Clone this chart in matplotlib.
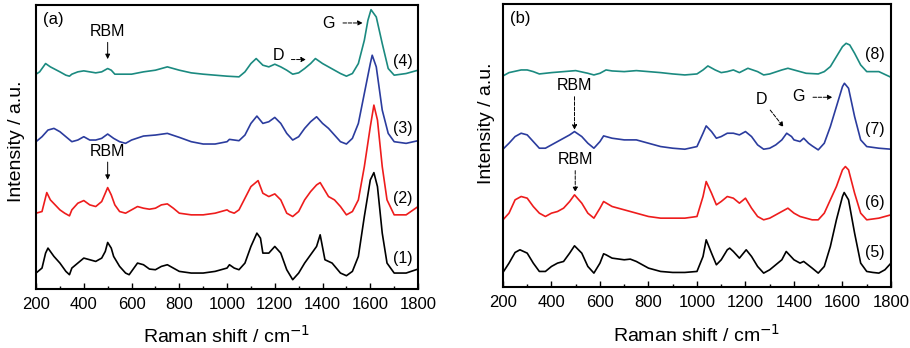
import matplotlib
matplotlib.use("Agg")
from matplotlib import pyplot as plt
from matplotlib.ticker import MultipleLocator

plt.rcParams['font.family'] = ['Liberation Sans', 'DejaVu Sans']

# panel (a): spectra (1)-(4), intensities (stacked, a.u.)
x1 = [200, 225, 240, 250, 275, 300, 325, 340, 350, 375, 400, 425, 450, 475, 490, 500, 515, 525, 550, 575,
      590, 600, 625, 650, 675, 700, 725, 750, 775, 800, 850, 900, 950, 1000, 1010, 1030, 1050, 1075, 1100,
      1125, 1140, 1150, 1175, 1200, 1225, 1250, 1275, 1300, 1325, 1350, 1375, 1390, 1410, 1440, 1475, 1500,
      1525, 1550, 1575, 1600, 1615, 1630, 1650, 1670, 1700, 1750, 1800]
y1 = [50, 65, 110, 125, 100, 80, 55, 45, 65, 80, 95, 90, 85, 95, 115, 142, 125, 100, 70, 50,
      45, 55, 80, 75, 62, 60, 70, 75, 65, 55, 50, 50, 55, 65, 75, 65, 60, 80, 130,
      170, 155, 110, 110, 130, 110, 60, 30, 50, 80, 105, 130, 165, 90, 80, 50, 42,
      55, 100, 220, 330, 352, 310, 170, 80, 50, 50, 62]

x2 = [200, 225, 245, 260, 300, 320, 340, 350, 375, 400, 425, 450, 475, 490, 500, 515, 530, 550, 575, 600,
      625, 650, 675, 700, 725, 750, 775, 800, 850, 900, 950, 1000, 1010, 1030, 1050, 1075, 1100, 1130, 1150,
      1175, 1200, 1225, 1250, 1275, 1300, 1325, 1350, 1375, 1390, 1400, 1425, 1450, 1475, 1500, 1525, 1550,
      1575, 1600, 1615, 1630, 1650, 1670, 1700, 1750, 1800]
y2 = [230, 235, 292, 270, 240, 230, 222, 240, 260, 268, 255, 250, 265, 290, 307, 285, 255, 235, 230, 240,
      250, 245, 242, 245, 255, 258, 245, 230, 225, 225, 230, 240, 235, 230, 240, 275, 310, 328, 290,
      280, 288, 270, 230, 220, 235, 270, 295, 315, 322, 310, 280, 270, 250, 225, 235, 270,
      370, 490, 555, 510, 370, 270, 225, 225, 250]

x3 = [200, 225, 250, 275, 300, 325, 350, 375, 400, 425, 450, 475, 500, 525, 550, 575, 600, 650, 700, 750,
      800, 850, 900, 950, 1000, 1010, 1030, 1050, 1075, 1100, 1125, 1150, 1175, 1200, 1225, 1250, 1275, 1300,
      1325, 1350, 1375, 1400, 1425, 1450, 1475, 1500, 1525, 1550, 1575, 1600, 1608, 1625, 1650, 1675, 1700,
      1750, 1800]
y3 = [445, 460, 480, 485, 475, 460, 445, 450, 460, 450, 450, 455, 468, 455, 445, 440, 450, 462, 465, 470,
      458, 445, 438, 438, 445, 452, 450, 448, 465, 500, 522, 500, 505, 518, 500, 470, 450, 460,
      485, 505, 520, 500, 485, 465, 445, 438, 455, 500, 590, 680, 705, 670, 540, 470, 445,
      440, 448]

x4 = [200, 215, 240, 260, 300, 325, 340, 350, 375, 400, 425, 450, 475, 500, 515, 530, 550, 600, 650, 700,
      750, 800, 850, 900, 950, 1000, 1050, 1075, 1100, 1122, 1150, 1175, 1200, 1225, 1250, 1275, 1300, 1325,
      1350, 1370, 1400, 1425, 1450, 1475, 1500, 1525, 1550, 1575, 1590, 1603, 1625, 1650, 1675, 1700, 1750,
      1800]
y4 = [648, 655, 680, 670, 655, 645, 642, 648, 655, 658, 655, 652, 655, 665, 660, 648, 648, 648, 655, 660,
      670, 660, 652, 648, 645, 642, 640, 655, 680, 695, 675, 670, 678, 670, 660, 648, 652, 665,
      680, 695, 680, 670, 660, 650, 642, 650, 680, 750, 810, 842, 820, 740, 665, 645, 650,
      660]

# panel (b): spectra (5)-(8)
x5 = [200, 225, 250, 270, 300, 325, 350, 375, 400, 425, 450, 475, 495, 525, 550, 575, 600, 615, 625, 650,
      700, 725, 750, 775, 800, 850, 900, 950, 1000, 1025, 1038, 1060, 1080, 1100, 1125, 1135, 1150, 1175,
      1203, 1225, 1250, 1275, 1300, 1325, 1350, 1368, 1400, 1425, 1440, 1475, 1500, 1525, 1550, 1575, 1600,
      1607, 1625, 1650, 1675, 1700, 1725, 1750, 1775, 1800]
y5 = [52, 80, 112, 120, 110, 80, 55, 55, 70, 80, 85, 110, 132, 110, 70, 50, 80, 108, 105, 95,
      90, 92, 85, 75, 65, 55, 52, 52, 55, 100, 150, 110, 75, 90, 120, 125, 115, 95,
      120, 100, 70, 50, 60, 75, 90, 115, 90, 80, 85, 65, 50, 70, 130, 210, 280,
      292, 270, 170, 80, 55, 52, 50, 60, 80]

x6 = [200, 225, 250, 275, 300, 325, 350, 375, 400, 425, 450, 475, 495, 525, 550, 575, 600, 615, 650, 700,
      750, 800, 850, 900, 950, 1000, 1025, 1038, 1060, 1080, 1100, 1125, 1150, 1175, 1200, 1225, 1250, 1275,
      1300, 1325, 1350, 1375, 1400, 1425, 1450, 1475, 1500, 1525, 1550, 1575, 1600, 1612, 1625, 1650, 1675,
      1700, 1750, 1800]
y6 = [210, 230, 270, 280, 275, 250, 230, 220, 230, 235, 245, 265, 285, 260, 230, 215, 245, 265, 250, 240,
      230, 220, 215, 215, 215, 220, 280, 325, 290, 255, 265, 280, 275, 260, 275, 245, 220, 210,
      215, 225, 235, 245, 230, 220, 215, 210, 210, 230, 270, 310, 360, 370, 360, 290, 230,
      210, 215, 225]

x7 = [200, 225, 250, 275, 300, 325, 350, 375, 400, 425, 450, 475, 495, 525, 550, 575, 600, 615, 650, 700,
      750, 800, 850, 900, 950, 1000, 1025, 1038, 1060, 1080, 1100, 1125, 1150, 1175, 1200, 1225, 1250, 1275,
      1300, 1325, 1350, 1370, 1390, 1400, 1425, 1440, 1460, 1475, 1500, 1525, 1550, 1575, 1600, 1608, 1625,
      1650, 1675, 1700, 1750, 1800]
y7 = [422, 440, 460, 470, 465, 445, 425, 425, 435, 445, 455, 465, 475, 460, 440, 425, 445, 462, 455, 450,
      450, 440, 430, 425, 422, 430, 470, 492, 475, 455, 460, 470, 470, 465, 475, 460, 435, 422,
      425, 435, 450, 470, 460, 450, 445, 455, 440, 432, 420, 440, 490, 550, 610, 620, 605,
      520, 450, 430, 425, 422]

x8 = [200, 225, 275, 300, 325, 350, 400, 450, 500, 550, 575, 600, 625, 650, 700, 750, 800, 850, 900, 950,
      1000, 1025, 1045, 1075, 1100, 1125, 1150, 1175, 1210, 1250, 1275, 1300, 1350, 1375, 1400, 1450, 1500,
      1525, 1550, 1575, 1600, 1615, 1630, 1650, 1675, 1700, 1750, 1800]
y8 = [642, 652, 660, 660, 655, 648, 652, 655, 658, 650, 645, 650, 660, 657, 655, 658, 655, 652, 648, 645,
      648, 660, 672, 660, 652, 655, 660, 652, 665, 655, 645, 648, 660, 665, 660, 650, 648,
      655, 670, 700, 730, 740, 735, 710, 675, 655, 655, 638]

colors = ['black', '#ee1c1c', '#2b3c9e', '#1b8a80']
labels_a = ['(1)', '(2)', '(3)', '(4)']
labels_b = ['(5)', '(6)', '(7)', '(8)']
label_y_a = [95, 275, 485, 685]
label_y_b = [112, 262, 480, 705]

fig = plt.figure(figsize=(9.1, 3.48), dpi=100)
ax1 = fig.add_axes([0.0396, 0.1695, 0.4198, 0.8161])
ax2 = fig.add_axes([0.5527, 0.1750, 0.4264, 0.8135])

for ax, xs, ys, labs, ly in [(ax1, [x1, x2, x3, x4], [y1, y2, y3, y4], labels_a, label_y_a),
                             (ax2, [x5, x6, x7, x8], [y5, y6, y7, y8], labels_b, label_y_b)]:
    for x, y, c in zip(xs, ys, colors):
        ax.plot(x, y, color=c, lw=1.2)
    for lab, yy in zip(labs, ly):
        ax.text(1735, yy, lab, fontsize=11.5, ha='center', va='center')
    ax.set_xlim(200, 1800)
    ax.xaxis.set_major_locator(MultipleLocator(200))
    ax.xaxis.set_minor_locator(MultipleLocator(100))
    ax.tick_params(axis='x', which='both', direction='in', top=False, labelsize=12, pad=6)
    ax.tick_params(axis='x', which='major', length=4, width=1)
    ax.tick_params(axis='x', which='minor', length=2.5, width=1)
    ax.set_yticks([])
    for s in ax.spines.values():
        s.set_linewidth(1.5)
    ax.set_xlabel('Raman shift / cm$^{-1}$', fontsize=14)
    ax.set_ylabel('Intensity / a.u.', fontsize=14)

ax1.set_ylim(2, 856)
ax2.set_ylim(8, 858)
ax1.xaxis.set_label_coords(0.5, -0.125)
ax2.xaxis.set_label_coords(0.5, -0.13)
ax1.yaxis.set_label_coords(-0.03, 0.52)
ax2.yaxis.set_label_coords(-0.02, 0.58)

# annotations, panel (a)
ax1.text(230, 812, '(a)', fontsize=12, ha='left', va='center')
ax1.text(500, 775, 'RBM', fontsize=11.5, ha='center', va='center')
ax1.annotate('', xy=(500, 685), xytext=(500, 752),
             arrowprops=dict(arrowstyle='-|>', color='k', lw=0.7, mutation_scale=7))
ax1.text(500, 415, 'RBM', fontsize=11.5, ha='center', va='center')
ax1.annotate('', xy=(500, 322), xytext=(500, 392),
             arrowprops=dict(arrowstyle='-|>', color='k', lw=0.7, mutation_scale=7))
ax1.text(1425, 800, 'G', fontsize=11.5, ha='center', va='center')
ax1.annotate('', xy=(1580, 802), xytext=(1474, 802),
             arrowprops=dict(arrowstyle='-|>', color='k', lw=0.7, ls='--', mutation_scale=7))
ax1.text(1215, 705, 'D', fontsize=11.5, ha='center', va='center')
ax1.annotate('', xy=(1342, 692), xytext=(1258, 692),
             arrowprops=dict(arrowstyle='-|>', color='k', lw=0.7, ls='--', mutation_scale=7))

# annotations, panel (b)
ax2.text(228, 815, '(b)', fontsize=12, ha='left', va='center')
ax2.text(495, 612, 'RBM', fontsize=11.5, ha='center', va='center')
ax2.annotate('', xy=(495, 472), xytext=(495, 588),
             arrowprops=dict(arrowstyle='-|>', color='k', lw=0.7, ls='--', mutation_scale=7))
ax2.text(498, 390, 'RBM', fontsize=11.5, ha='center', va='center')
ax2.annotate('', xy=(498, 285), xytext=(498, 366),
             arrowprops=dict(arrowstyle='-|>', color='k', lw=0.7, ls='--', mutation_scale=7))
ax2.text(1265, 570, 'D', fontsize=11.5, ha='center', va='center')
ax2.annotate('', xy=(1364, 482), xytext=(1295, 546),
             arrowprops=dict(arrowstyle='-|>', color='k', lw=0.7, ls='--', mutation_scale=7))
ax2.text(1419, 580, 'G', fontsize=11.5, ha='center', va='center')
ax2.annotate('', xy=(1570, 578), xytext=(1467, 578),
             arrowprops=dict(arrowstyle='-|>', color='k', lw=0.7, ls='--', mutation_scale=7))

fig.savefig('out.png', dpi=100)
